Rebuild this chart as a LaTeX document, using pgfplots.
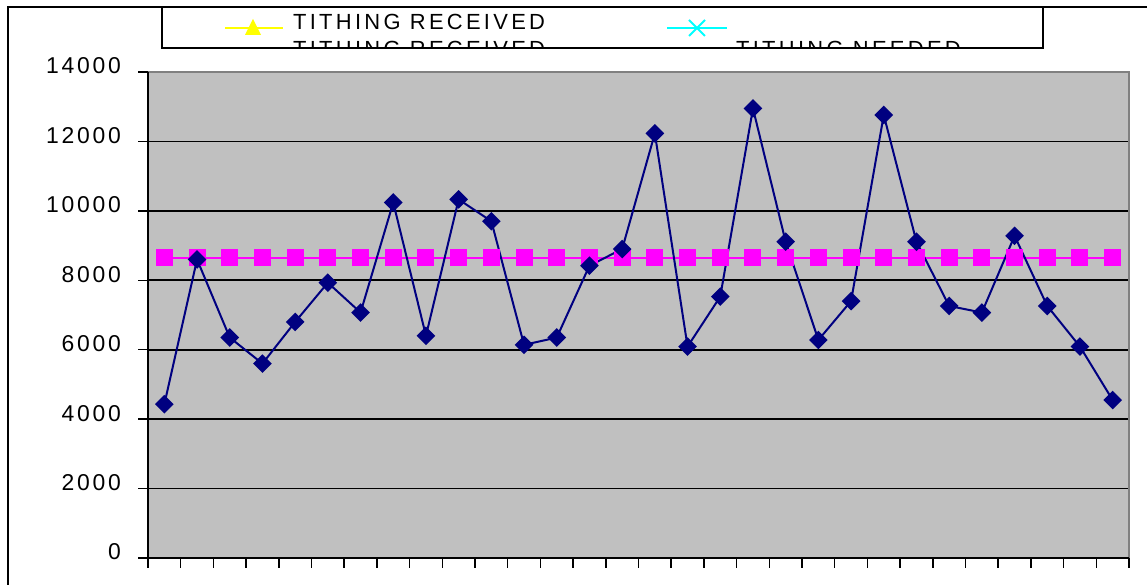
\documentclass[border=0pt]{standalone}
\usepackage{fontspec}
\setmainfont{Liberation Sans}
\newfontfamily\tickfont[LetterSpace=12]{Liberation Sans}
\newfontfamily\legfont[LetterSpace=15]{Liberation Sans}
\usepackage{pgfplots}
\pgfplotsset{compat=1.18}
\definecolor{bgGray}{HTML}{C0C0C0}
\definecolor{brdGray}{HTML}{808080}
\definecolor{navyc}{HTML}{000080}
\definecolor{magc}{HTML}{FF00FF}
\definecolor{yelc}{HTML}{FFFF00}
\definecolor{cyac}{HTML}{00FFFF}
\begin{document}
\begin{tikzpicture}[x=1bp,y=1bp]
\path[use as bounding box] (0,0) rectangle (1147,585);
\begin{axis}[
  at={(148bp,27bp)}, anchor=south west,
  scale only axis, width=981bp, height=486bp,
  xmin=0, xmax=30, ymin=0, ymax=14000,
  axis background/.style={fill=bgGray},
  axis line style={draw=none},
  xtick={0,1,...,30}, xticklabels={},
  ytick={0,2000,...,14000},
  scaled y ticks=false,
  tick pos=left, tick align=outside,
  major tick length=10bp,
  tick style={black, line width=1.5bp},
  ymajorgrids, grid style={black, line width=1.8bp},
  yticklabel style={font=\tickfont\fontsize{23}{23}\selectfont, inner sep=0pt, xshift=-17bp, yshift=6bp},
  /pgf/number format/assume math mode=true,
  /pgf/number format/1000 sep={},
  clip=false,
]
\draw[brdGray, line width=2bp] (rel axis cs:0,1) -- (rel axis cs:1,1) -- (rel axis cs:1,0);
\draw[black, line width=1.5bp] (rel axis cs:0,1) -- (rel axis cs:0,0) -- (rel axis cs:1,0);
\addplot[magc, line width=2bp, mark=square*, mark size=7.5bp, mark options={fill=magc, draw=magc}]
coordinates {(0.5,8650)(1.5,8650)(2.5,8650)(3.5,8650)(4.5,8650)(5.5,8650)(6.5,8650)(7.5,8650)(8.5,8650)(9.5,8650)
(10.5,8650)(11.5,8650)(12.5,8650)(13.5,8650)(14.5,8650)(15.5,8650)(16.5,8650)(17.5,8650)(18.5,8650)(19.5,8650)
(20.5,8650)(21.5,8650)(22.5,8650)(23.5,8650)(24.5,8650)(25.5,8650)(26.5,8650)(27.5,8650)(28.5,8650)(29.5,8650)};
\addplot[navyc, line width=2bp, mark=square*, mark size=5.6bp, mark options={fill=navyc, draw=navyc, rotate=45}]
coordinates {(0.5,4430)(1.5,8600)(2.5,6350)(3.5,5600)(4.5,6800)(5.5,7930)(6.5,7070)(7.5,10240)(8.5,6400)(9.5,10330)
(10.5,9700)(11.5,6140)(12.5,6350)(13.5,8420)(14.5,8900)(15.5,12230)(16.5,6090)(17.5,7530)(18.5,12950)(19.5,9110)
(20.5,6280)(21.5,7400)(22.5,12760)(23.5,9110)(24.5,7260)(25.5,7070)(26.5,9280)(27.5,7260)(28.5,6090)(29.5,4550)};
\end{axis}
% outer chart border
\draw[black, line width=1.5bp] (8,-5) -- (8,578) -- (1160,578);
% legend (clipped as in the original)
\begin{scope}
\clip (162,537) rectangle (1043,578);
\fill[white] (162,537) rectangle (1043,578);
\draw[yelc, line width=2bp] (225,557) -- (283,557);
\fill[yelc] (253,566) -- (245,550) -- (261,550) -- cycle;
\draw[cyac, line width=2bp] (667,557) -- (727,557);
\draw[cyac, line width=2bp] (689,565) -- (705,549) (689,549) -- (705,565);
\node[anchor=base west, inner sep=0pt, font=\legfont\fontsize{22}{22}\selectfont] at (293,555) {TITHING RECEIVED};
\node[anchor=base west, inner sep=0pt, font=\legfont\fontsize{22}{22}\selectfont] at (293,528) {TITHING RECEIVED};
\node[anchor=base west, inner sep=0pt, font=\legfont\fontsize{22}{22}\selectfont] at (736,528) {TITHING NEEDED};
\end{scope}
\draw[black, line width=1.5bp] (162,537) rectangle (1043,578);
\end{tikzpicture}
\end{document}
